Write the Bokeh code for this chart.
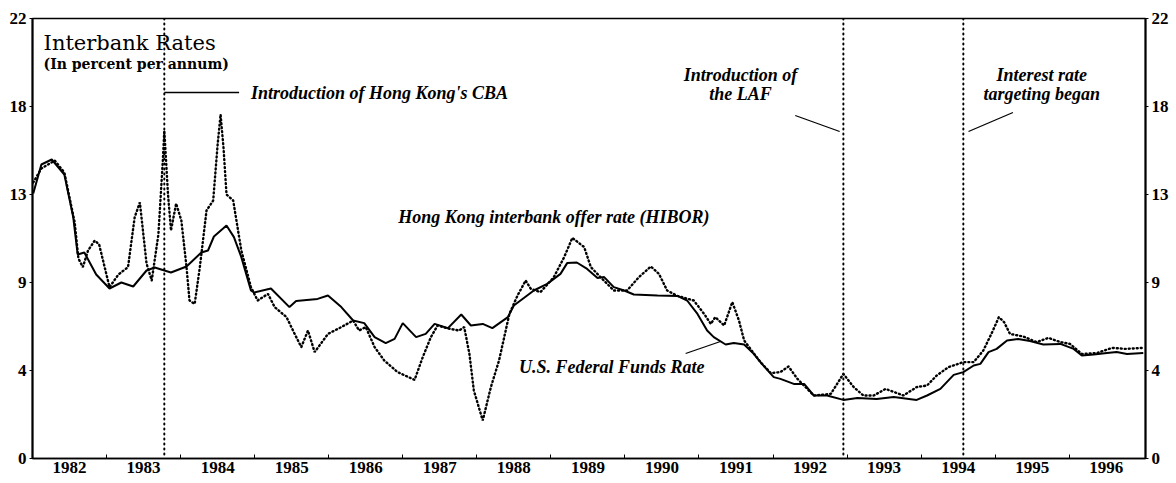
from bokeh.plotting import figure
from bokeh.models import Range1d, FixedTicker, LinearAxis, Span, Label, CustomJSTickFormatter
from bokeh.embed import file_html
from bokeh.resources import INLINE

# U.S. Federal Funds Rate (solid), decimal year / percent
fed_t = [1982.01, 1982.12, 1982.26, 1982.43, 1982.55, 1982.61, 1982.70, 1982.86,
         1983.04, 1983.20, 1983.36, 1983.54, 1983.65, 1983.87, 1984.08, 1984.28,
         1984.37, 1984.45, 1984.62, 1984.72, 1984.82, 1984.95, 1984.99, 1985.22,
         1985.47, 1985.56, 1985.85, 1985.99, 1986.17, 1986.33, 1986.48, 1986.62,
         1986.77, 1986.89, 1987.00, 1987.18, 1987.31, 1987.43, 1987.61, 1987.79,
         1987.92, 1988.08, 1988.21, 1988.42, 1988.50, 1988.77, 1988.95, 1989.13,
         1989.22, 1989.35, 1989.49, 1989.63, 1989.72, 1989.85, 1989.99, 1990.12,
         1990.44, 1990.71, 1990.84, 1990.98, 1991.11, 1991.20, 1991.36, 1991.47,
         1991.61, 1991.74, 1991.85, 1992.01, 1992.10, 1992.28, 1992.42, 1992.55,
         1992.73, 1992.95, 1993.14, 1993.40, 1993.63, 1993.94, 1994.08, 1994.26,
         1994.44, 1994.57, 1994.71, 1994.80, 1994.91, 1995.02, 1995.16, 1995.31,
         1995.47, 1995.65, 1995.88, 1996.06, 1996.17, 1996.33, 1996.51, 1996.64,
         1996.78, 1997.00]
fed_v = [13.25, 14.7, 14.95, 14.2, 12.07, 10.2, 10.3, 9.2,
         8.5, 8.8, 8.6, 9.4, 9.55, 9.3, 9.6, 10.3,
         10.4, 11.1, 11.65, 11.07, 10.07, 8.4, 8.3, 8.5,
         7.57, 7.87, 7.98, 8.15, 7.57, 6.9, 6.77, 6.07,
         5.77, 5.98, 6.77, 6.07, 6.23, 6.73, 6.52, 7.2,
         6.65, 6.73, 6.52, 7.07, 7.65, 8.4, 8.73, 9.23,
         9.77, 9.8, 9.48, 9.02, 9.07, 8.57, 8.4, 8.2,
         8.15, 8.13, 7.9, 7.23, 6.4, 6.07, 5.7, 5.77,
         5.7, 5.23, 4.73, 4.07, 3.98, 3.73, 3.73, 3.15,
         3.15, 2.93, 3.03, 2.98, 3.07, 2.93, 3.15, 3.48,
         4.18, 4.32, 4.65, 4.73, 5.32, 5.48, 5.9, 5.98,
         5.87, 5.7, 5.73, 5.48, 5.15, 5.2, 5.27, 5.32,
         5.22, 5.28]

# Hong Kong interbank offer rate, HIBOR (dotted)
hibor_t = [1982.01, 1982.12, 1982.30, 1982.43, 1982.57, 1982.62, 1982.68, 1982.75,
           1982.84, 1982.90, 1983.04, 1983.16, 1983.29, 1983.38, 1983.45, 1983.54,
           1983.61, 1983.70, 1983.76, 1983.78, 1983.83, 1983.87, 1983.94, 1984.01,
           1984.08, 1984.12, 1984.19, 1984.26, 1984.35, 1984.44, 1984.50, 1984.54,
           1984.58, 1984.62, 1984.71, 1984.82, 1984.95, 1985.04, 1985.18, 1985.27,
           1985.43, 1985.54, 1985.63, 1985.72, 1985.81, 1985.99, 1986.17, 1986.33,
           1986.41, 1986.50, 1986.62, 1986.75, 1986.93, 1987.16, 1987.27, 1987.38,
           1987.47, 1987.61, 1987.76, 1987.83, 1987.90, 1987.96, 1988.08, 1988.19,
           1988.30, 1988.44, 1988.55, 1988.66, 1988.73, 1988.86, 1989.04, 1989.18,
           1989.29, 1989.45, 1989.54, 1989.67, 1989.85, 1990.03, 1990.19, 1990.35,
           1990.46, 1990.57, 1990.71, 1990.93, 1991.07, 1991.16, 1991.22, 1991.34,
           1991.45, 1991.54, 1991.61, 1991.83, 1991.97, 1992.10, 1992.21, 1992.33,
           1992.55, 1992.78, 1992.95, 1993.09, 1993.22, 1993.36, 1993.52, 1993.76,
           1993.94, 1994.08, 1994.21, 1994.37, 1994.57, 1994.71, 1994.84, 1994.96,
           1995.05, 1995.12, 1995.20, 1995.38, 1995.56, 1995.72, 1995.88, 1996.01,
           1996.17, 1996.37, 1996.58, 1996.76, 1997.00]
hibor_v = [13.8, 14.5, 14.9, 14.3, 11.8, 10.0, 9.57, 10.4,
           10.9, 10.7, 8.57, 9.2, 9.57, 12.07, 12.8, 9.75,
           8.9, 11.2, 14.9, 16.4, 13.2, 11.4, 12.75, 11.9,
           9.57, 7.9, 7.73, 9.57, 12.4, 12.9, 15.7, 17.2,
           15.5, 13.2, 12.9, 10.4, 8.57, 7.9, 8.23, 7.57,
           7.07, 6.23, 5.57, 6.4, 5.32, 6.23, 6.57, 6.9,
           6.4, 6.57, 5.57, 4.9, 4.32, 3.93, 5.07, 6.07,
           6.65, 6.5, 6.4, 6.57, 5.23, 3.4, 1.9, 3.57,
           4.9, 7.23, 8.15, 8.9, 8.48, 8.32, 9.07, 10.07,
           11.03, 10.57, 9.57, 9.07, 8.4, 8.4, 9.07, 9.6,
           9.23, 8.4, 8.13, 7.9, 7.23, 6.73, 7.07, 6.65,
           7.82, 6.9, 5.9, 4.82, 4.27, 4.32, 4.6, 3.98,
           3.15, 3.23, 4.23, 3.57, 3.15, 3.15, 3.48, 3.15,
           3.57, 3.65, 4.15, 4.57, 4.82, 4.82, 5.4, 6.32,
           7.07, 6.82, 6.23, 6.1, 5.82, 6.03, 5.82, 5.73,
           5.23, 5.27, 5.53, 5.48, 5.53]

years = list(range(1982, 1997))
y_ticks = [0, 4.4, 8.8, 13.2, 17.6, 22]
event_t = [1983.78, 1992.95, 1994.57]   # CBA, LAF, interest rate targeting

FONT = "Liberation Serif"

p = figure(width=1171, height=482, output_backend="svg", toolbar_location=None,
           x_range=Range1d(1982.0, 1997.03), y_range=Range1d(0, 22),
           min_border_left=32, min_border_right=25, min_border_top=18,
           min_border_bottom=24)
p.xgrid.visible = False
p.ygrid.visible = False
p.outline_line_color = "black"
p.outline_line_width = 1.5
p.background_fill_color = "white"
p.border_fill_color = "white"

for t in event_t:
    p.add_layout(Span(location=t, dimension="height", line_color="black",
                      line_width=2, line_dash="1 4", line_cap="round"))

p.line(fed_t, fed_v, line_color="black", line_width=2)
p.line(hibor_t, hibor_v, line_color="black", line_width=2.4, line_dash="1 3",
       line_cap="round")

# x axis
xa = p.xaxis[0]
xa.ticker = FixedTicker(ticks=[y + 0.5 for y in years],
                        minor_ticks=[y for y in years[1:]])
xa.formatter = CustomJSTickFormatter(code="return Math.floor(tick).toString();")
xa.major_tick_in = 0
xa.major_tick_out = 0
xa.minor_tick_in = 4
xa.minor_tick_out = 0
xa.axis_line_width = 1.5
xa.major_label_standoff = 3
xa.major_label_text_font = FONT
xa.major_label_text_font_style = "bold"
xa.major_label_text_font_size = "17px"
xa.major_label_text_color = "black"

def style_y(ax):
    ax.ticker = FixedTicker(ticks=y_ticks, minor_ticks=[])
    ax.formatter = CustomJSTickFormatter(code="return Math.round(tick).toString();")
    ax.major_tick_in = 0
    ax.major_tick_out = 3
    ax.minor_tick_in = 0
    ax.minor_tick_out = 0
    ax.axis_line_width = 2
    ax.major_label_standoff = 3
    ax.major_label_text_font = FONT
    ax.major_label_text_font_style = "bold"
    ax.major_label_text_font_size = "17px"
    ax.major_label_text_color = "black"

style_y(p.yaxis[0])
ry = LinearAxis()
style_y(ry)
p.add_layout(ry, "right")

def lab(x, y, text, size="18px", style="bold italic", font=FONT, align="left"):
    p.add_layout(Label(x=x, y=y, text=text, text_font=font, text_font_style=style,
                       text_font_size=size, text_align=align,
                       text_baseline="middle", text_color="black"))

lab(1982.15, 20.8, "Interbank Rates", size="21px", style="normal", font="DejaVu Serif")
lab(1982.15, 19.75, "(In percent per annum)", size="14px", style="bold", font="DejaVu Serif")

lab(1984.95, 18.3, "Introduction of Hong Kong's CBA")
p.line([1983.78, 1984.79], [18.3, 18.3], line_color="black", line_width=1.3)

lab(1991.56, 19.2, "Introduction of", align="center")
lab(1991.56, 18.25, "the LAF", align="center")
p.line([1992.30, 1992.90], [17.15, 16.35], line_color="black", line_width=1.3)

lab(1995.63, 19.2, "Interest rate", align="center")
lab(1995.63, 18.25, "targeting began", align="center")
p.line([1994.64, 1995.24], [16.35, 17.3], line_color="black", line_width=1.3)

lab(1986.94, 12.1, "Hong Kong interbank offer rate (HIBOR)")
lab(1988.57, 4.6, "U.S. Federal Funds Rate")
p.line([1990.82, 1991.29], [5.25, 5.85], line_color="black", line_width=1.3)

open("out.html", "w").write(file_html(p, INLINE))
